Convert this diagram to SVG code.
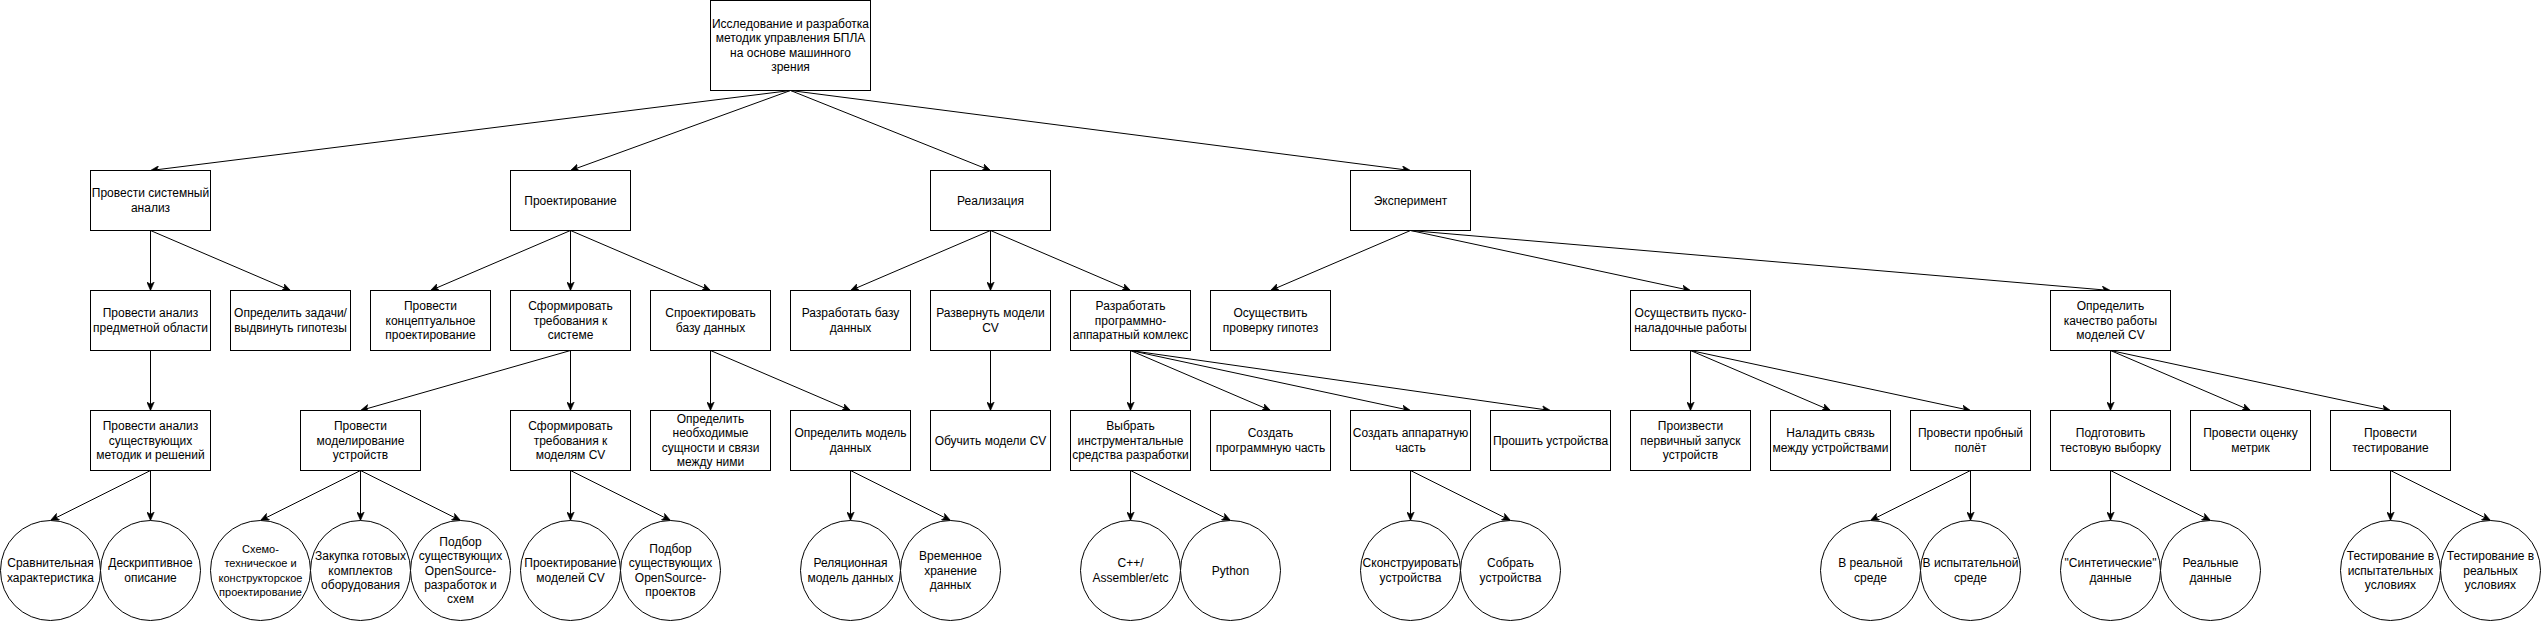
<svg xmlns="http://www.w3.org/2000/svg" width="2541" height="621" viewBox="0 0 2541 621">
<style>
.n rect,.n ellipse{fill:#fff;stroke:#000;stroke-width:1}
.n text{font-family:"Liberation Sans",Arial,sans-serif;font-size:12px;fill:#000;text-anchor:middle}
.n text.s{font-size:11px}
.e line{stroke:#000;stroke-width:1;fill:none;marker-end:url(#arr)}
</style>
<defs>
<marker id="arr" markerUnits="userSpaceOnUse" markerWidth="9" markerHeight="8" viewBox="0 0 9 8" refX="8.5" refY="4" orient="auto">
<path d="M0,0.3 L8.5,4 L0,7.7 L2.2,4 Z" fill="#000" stroke="#000" stroke-width="0.6"/>
</marker>
</defs>
<rect x="0" y="0" width="2541" height="621" fill="#fff"/>
<g transform="translate(0.5,0.5)">
<g id="connectors" class="e">
<line x1="790" y1="90" x2="150" y2="170"/>
<line x1="790" y1="90" x2="570" y2="170"/>
<line x1="790" y1="90" x2="990" y2="170"/>
<line x1="790" y1="90" x2="1410" y2="170"/>
<line x1="150" y1="230" x2="150" y2="290"/>
<line x1="150" y1="230" x2="290" y2="290"/>
<line x1="570" y1="230" x2="430" y2="290"/>
<line x1="570" y1="230" x2="570" y2="290"/>
<line x1="570" y1="230" x2="710" y2="290"/>
<line x1="990" y1="230" x2="850" y2="290"/>
<line x1="990" y1="230" x2="990" y2="290"/>
<line x1="990" y1="230" x2="1130" y2="290"/>
<line x1="1410" y1="230" x2="1270" y2="290"/>
<line x1="1410" y1="230" x2="1690" y2="290"/>
<line x1="1410" y1="230" x2="2110" y2="290"/>
<line x1="150" y1="350" x2="150" y2="410"/>
<line x1="570" y1="350" x2="360" y2="410"/>
<line x1="570" y1="350" x2="570" y2="410"/>
<line x1="710" y1="350" x2="710" y2="410"/>
<line x1="710" y1="350" x2="850" y2="410"/>
<line x1="990" y1="350" x2="990" y2="410"/>
<line x1="1130" y1="350" x2="1130" y2="410"/>
<line x1="1130" y1="350" x2="1270" y2="410"/>
<line x1="1130" y1="350" x2="1410" y2="410"/>
<line x1="1130" y1="350" x2="1550" y2="410"/>
<line x1="1690" y1="350" x2="1690" y2="410"/>
<line x1="1690" y1="350" x2="1830" y2="410"/>
<line x1="1690" y1="350" x2="1970" y2="410"/>
<line x1="2110" y1="350" x2="2110" y2="410"/>
<line x1="2110" y1="350" x2="2250" y2="410"/>
<line x1="2110" y1="350" x2="2390" y2="410"/>
<line x1="150" y1="470" x2="50" y2="520"/>
<line x1="150" y1="470" x2="150" y2="520"/>
<line x1="360" y1="470" x2="260" y2="520"/>
<line x1="360" y1="470" x2="360" y2="520"/>
<line x1="360" y1="470" x2="460" y2="520"/>
<line x1="570" y1="470" x2="570" y2="520"/>
<line x1="570" y1="470" x2="670" y2="520"/>
<line x1="850" y1="470" x2="850" y2="520"/>
<line x1="850" y1="470" x2="950" y2="520"/>
<line x1="1130" y1="470" x2="1130" y2="520"/>
<line x1="1130" y1="470" x2="1230" y2="520"/>
<line x1="1410" y1="470" x2="1410" y2="520"/>
<line x1="1410" y1="470" x2="1510" y2="520"/>
<line x1="1970" y1="470" x2="1870" y2="520"/>
<line x1="1970" y1="470" x2="1970" y2="520"/>
<line x1="2110" y1="470" x2="2110" y2="520"/>
<line x1="2110" y1="470" x2="2210" y2="520"/>
<line x1="2390" y1="470" x2="2390" y2="520"/>
<line x1="2390" y1="470" x2="2490" y2="520"/>
</g>

<g id="root" class="n"><rect x="710" y="0" width="160" height="90"/><text><tspan x="790" y="27.4">Исследование и разработка</tspan><tspan x="790" y="41.8">методик управления БПЛА</tspan><tspan x="790" y="56.2">на основе машинного</tspan><tspan x="790" y="70.6">зрения</tspan></text></g>

<g id="n-analysis" class="n"><rect x="90" y="170" width="120" height="60"/><text><tspan x="150" y="196.8">Провести системный</tspan><tspan x="150" y="211.2">анализ</tspan></text></g>
<g id="n-design" class="n"><rect x="510" y="170" width="120" height="60"/><text><tspan x="570" y="204">Проектирование</tspan></text></g>
<g id="n-impl" class="n"><rect x="930" y="170" width="120" height="60"/><text><tspan x="990" y="204">Реализация</tspan></text></g>
<g id="n-exp" class="n"><rect x="1350" y="170" width="120" height="60"/><text><tspan x="1410" y="204">Эксперимент</tspan></text></g>

<g id="n-domain" class="n"><rect x="90" y="290" width="120" height="60"/><text><tspan x="150" y="316.8">Провести анализ</tspan><tspan x="150" y="331.2">предметной области</tspan></text></g>
<g id="n-tasks" class="n"><rect x="230" y="290" width="120" height="60"/><text><tspan x="290" y="316.8">Определить задачи/</tspan><tspan x="290" y="331.2">выдвинуть гипотезы</tspan></text></g>
<g id="n-concept" class="n"><rect x="370" y="290" width="120" height="60"/><text><tspan x="430" y="309.6">Провести</tspan><tspan x="430" y="324">концептуальное</tspan><tspan x="430" y="338.4">проектирование</tspan></text></g>
<g id="n-reqsys" class="n"><rect x="510" y="290" width="120" height="60"/><text><tspan x="570" y="309.6">Сформировать</tspan><tspan x="570" y="324">требования к</tspan><tspan x="570" y="338.4">системе</tspan></text></g>
<g id="n-dbdesign" class="n"><rect x="650" y="290" width="120" height="60"/><text><tspan x="710" y="316.8">Спроектировать</tspan><tspan x="710" y="331.2">базу данных</tspan></text></g>
<g id="n-dbdev" class="n"><rect x="790" y="290" width="120" height="60"/><text><tspan x="850" y="316.8">Разработать базу</tspan><tspan x="850" y="331.2">данных</tspan></text></g>
<g id="n-deploy" class="n"><rect x="930" y="290" width="120" height="60"/><text><tspan x="990" y="316.8">Развернуть модели</tspan><tspan x="990" y="331.2">CV</tspan></text></g>
<g id="n-pak" class="n"><rect x="1070" y="290" width="120" height="60"/><text><tspan x="1130" y="309.6">Разработать</tspan><tspan x="1130" y="324">программно-</tspan><tspan x="1130" y="338.4">аппаратный комлекс</tspan></text></g>
<g id="n-hyp" class="n"><rect x="1210" y="290" width="120" height="60"/><text><tspan x="1270" y="316.8">Осуществить</tspan><tspan x="1270" y="331.2">проверку гипотез</tspan></text></g>
<g id="n-commission" class="n"><rect x="1630" y="290" width="120" height="60"/><text><tspan x="1690" y="316.8">Осуществить пуско-</tspan><tspan x="1690" y="331.2">наладочные работы</tspan></text></g>
<g id="n-quality" class="n"><rect x="2050" y="290" width="120" height="60"/><text><tspan x="2110" y="309.6">Определить</tspan><tspan x="2110" y="324">качество работы</tspan><tspan x="2110" y="338.4">моделей CV</tspan></text></g>

<g id="n-existing" class="n"><rect x="90" y="410" width="120" height="60"/><text><tspan x="150" y="429.6">Провести анализ</tspan><tspan x="150" y="444">существующих</tspan><tspan x="150" y="458.4">методик и решений</tspan></text></g>
<g id="n-modeling" class="n"><rect x="300" y="410" width="120" height="60"/><text><tspan x="360" y="429.6">Провести</tspan><tspan x="360" y="444">моделирование</tspan><tspan x="360" y="458.4">устройств</tspan></text></g>
<g id="n-reqcv" class="n"><rect x="510" y="410" width="120" height="60"/><text><tspan x="570" y="429.6">Сформировать</tspan><tspan x="570" y="444">требования к</tspan><tspan x="570" y="458.4">моделям CV</tspan></text></g>
<g id="n-entities" class="n"><rect x="650" y="410" width="120" height="60"/><text><tspan x="710" y="422.4">Определить</tspan><tspan x="710" y="436.8">необходимые</tspan><tspan x="710" y="451.2">сущности и связи</tspan><tspan x="710" y="465.6">между ними</tspan></text></g>
<g id="n-datamodel" class="n"><rect x="790" y="410" width="120" height="60"/><text><tspan x="850" y="436.8">Определить модель</tspan><tspan x="850" y="451.2">данных</tspan></text></g>
<g id="n-train" class="n"><rect x="930" y="410" width="120" height="60"/><text><tspan x="990" y="444">Обучить модели CV</tspan></text></g>
<g id="n-tools" class="n"><rect x="1070" y="410" width="120" height="60"/><text><tspan x="1130" y="429.6">Выбрать</tspan><tspan x="1130" y="444">инструментальные</tspan><tspan x="1130" y="458.4">средства разработки</tspan></text></g>
<g id="n-sw" class="n"><rect x="1210" y="410" width="120" height="60"/><text><tspan x="1270" y="436.8">Создать</tspan><tspan x="1270" y="451.2">программную часть</tspan></text></g>
<g id="n-hw" class="n"><rect x="1350" y="410" width="120" height="60"/><text><tspan x="1410" y="436.8">Создать аппаратную</tspan><tspan x="1410" y="451.2">часть</tspan></text></g>
<g id="n-flash" class="n"><rect x="1490" y="410" width="120" height="60"/><text><tspan x="1550" y="444">Прошить устройства</tspan></text></g>
<g id="n-firststart" class="n"><rect x="1630" y="410" width="120" height="60"/><text><tspan x="1690" y="429.6">Произвести</tspan><tspan x="1690" y="444">первичный запуск</tspan><tspan x="1690" y="458.4">устройств</tspan></text></g>
<g id="n-link" class="n"><rect x="1770" y="410" width="120" height="60"/><text><tspan x="1830" y="436.8">Наладить связь</tspan><tspan x="1830" y="451.2">между устройствами</tspan></text></g>
<g id="n-flight" class="n"><rect x="1910" y="410" width="120" height="60"/><text><tspan x="1970" y="436.8">Провести пробный</tspan><tspan x="1970" y="451.2">полёт</tspan></text></g>
<g id="n-sample" class="n"><rect x="2050" y="410" width="120" height="60"/><text><tspan x="2110" y="436.8">Подготовить</tspan><tspan x="2110" y="451.2">тестовую выборку</tspan></text></g>
<g id="n-metrics" class="n"><rect x="2190" y="410" width="120" height="60"/><text><tspan x="2250" y="436.8">Провести оценку</tspan><tspan x="2250" y="451.2">метрик</tspan></text></g>
<g id="n-testing" class="n"><rect x="2330" y="410" width="120" height="60"/><text><tspan x="2390" y="436.8">Провести</tspan><tspan x="2390" y="451.2">тестирование</tspan></text></g>

<g id="c-compare" class="n"><ellipse cx="50" cy="570" rx="50" ry="50"/><text><tspan x="50" y="566.8">Сравнительная</tspan><tspan x="50" y="581.2">характеристика</tspan></text></g>
<g id="c-descr" class="n"><ellipse cx="150" cy="570" rx="50" ry="50"/><text><tspan x="150" y="566.8">Дескриптивное</tspan><tspan x="150" y="581.2">описание</tspan></text></g>
<g id="c-schem" class="n"><ellipse cx="260" cy="570" rx="50" ry="50"/><text class="s"><tspan x="260" y="552.4">Схемо-</tspan><tspan x="260" y="566.8">техническое и</tspan><tspan x="260" y="581.2">конструкторское</tspan><tspan x="260" y="595.6">проектирование</tspan></text></g>
<g id="c-buy" class="n"><ellipse cx="360" cy="570" rx="50" ry="50"/><text><tspan x="360" y="559.6">Закупка готовых</tspan><tspan x="360" y="574">комплектов</tspan><tspan x="360" y="588.4">оборудования</tspan></text></g>
<g id="c-oss1" class="n"><ellipse cx="460" cy="570" rx="50" ry="50"/><text><tspan x="460" y="545.2">Подбор</tspan><tspan x="460" y="559.6">существующих</tspan><tspan x="460" y="574">OpenSource-</tspan><tspan x="460" y="588.4">разработок и</tspan><tspan x="460" y="602.8">схем</tspan></text></g>
<g id="c-cvdesign" class="n"><ellipse cx="570" cy="570" rx="50" ry="50"/><text><tspan x="570" y="566.8">Проектирование</tspan><tspan x="570" y="581.2">моделей CV</tspan></text></g>
<g id="c-oss2" class="n"><ellipse cx="670" cy="570" rx="50" ry="50"/><text><tspan x="670" y="552.4">Подбор</tspan><tspan x="670" y="566.8">существующих</tspan><tspan x="670" y="581.2">OpenSource-</tspan><tspan x="670" y="595.6">проектов</tspan></text></g>
<g id="c-rel" class="n"><ellipse cx="850" cy="570" rx="50" ry="50"/><text><tspan x="850" y="566.8">Реляционная</tspan><tspan x="850" y="581.2">модель данных</tspan></text></g>
<g id="c-temp" class="n"><ellipse cx="950" cy="570" rx="50" ry="50"/><text><tspan x="950" y="559.6">Временное</tspan><tspan x="950" y="574">хранение</tspan><tspan x="950" y="588.4">данных</tspan></text></g>
<g id="c-cpp" class="n"><ellipse cx="1130" cy="570" rx="50" ry="50"/><text><tspan x="1130" y="566.8">C++/</tspan><tspan x="1130" y="581.2">Assembler/etc</tspan></text></g>
<g id="c-python" class="n"><ellipse cx="1230" cy="570" rx="50" ry="50"/><text><tspan x="1230" y="574">Python</tspan></text></g>
<g id="c-construct" class="n"><ellipse cx="1410" cy="570" rx="50" ry="50"/><text><tspan x="1410" y="566.8">Сконструировать</tspan><tspan x="1410" y="581.2">устройства</tspan></text></g>
<g id="c-assemble" class="n"><ellipse cx="1510" cy="570" rx="50" ry="50"/><text><tspan x="1510" y="566.8">Собрать</tspan><tspan x="1510" y="581.2">устройства</tspan></text></g>
<g id="c-realenv" class="n"><ellipse cx="1870" cy="570" rx="50" ry="50"/><text><tspan x="1870" y="566.8">В реальной</tspan><tspan x="1870" y="581.2">среде</tspan></text></g>
<g id="c-testenv" class="n"><ellipse cx="1970" cy="570" rx="50" ry="50"/><text><tspan x="1970" y="566.8">В испытательной</tspan><tspan x="1970" y="581.2">среде</tspan></text></g>
<g id="c-synth" class="n"><ellipse cx="2110" cy="570" rx="50" ry="50"/><text><tspan x="2110" y="566.8">"Синтетические"</tspan><tspan x="2110" y="581.2">данные</tspan></text></g>
<g id="c-realdata" class="n"><ellipse cx="2210" cy="570" rx="50" ry="50"/><text><tspan x="2210" y="566.8">Реальные</tspan><tspan x="2210" y="581.2">данные</tspan></text></g>
<g id="c-testcond" class="n"><ellipse cx="2390" cy="570" rx="50" ry="50"/><text><tspan x="2390" y="559.6">Тестирование в</tspan><tspan x="2390" y="574">испытательных</tspan><tspan x="2390" y="588.4">условиях</tspan></text></g>
<g id="c-realcond" class="n"><ellipse cx="2490" cy="570" rx="50" ry="50"/><text><tspan x="2490" y="559.6">Тестирование в</tspan><tspan x="2490" y="574">реальных</tspan><tspan x="2490" y="588.4">условиях</tspan></text></g>
</g>
</svg>
